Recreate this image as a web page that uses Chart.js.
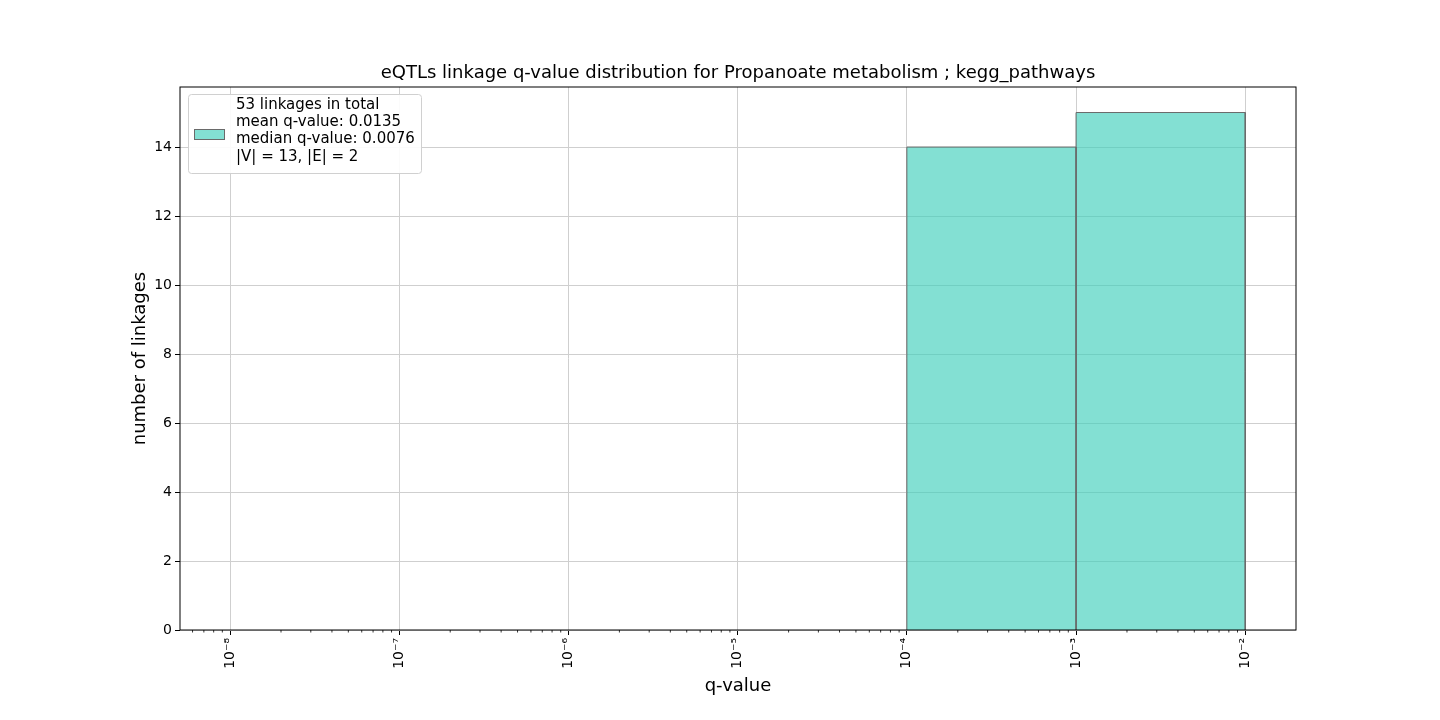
<!DOCTYPE html>
<html><head><meta charset="utf-8">
<script src="https://cdn.jsdelivr.net/npm/chart.js@4"></script>
<style>body{margin:0;background:#fff}</style></head>
<body><canvas id="c" width="1440" height="720"></canvas>
<script>
const binEdgesLog = [-4, -3, -2];
const binCounts = [14, 15];
const xTickExps = [-8, -7, -6, -5, -4, -3, -2];
const supers = {'-':'⁻','0':'⁰','1':'¹','2':'²','3':'³','4':'⁴','5':'⁵','6':'⁶','7':'⁷','8':'⁸','9':'⁹'};
const legendLines = ['53 linkages in total','mean q-value: 0.0135','median q-value: 0.0076','|V| = 13, |E| = 2'];
const titleText = 'eQTLs linkage q-value distribution for Propanoate metabolism ; kegg_pathways';
const FONT = '"DejaVu Sans", sans-serif';
const datasets = binCounts.map((c,i)=>({
  data:[{x:binEdgesLog[i],y:0},{x:binEdgesLog[i],y:c},{x:binEdgesLog[i+1],y:c},{x:binEdgesLog[i+1],y:0}],
  fill:'origin', backgroundColor:'rgba(64,208,188,0.65)', borderColor:'#6a6a6a', borderWidth:1,
  pointRadius:0, tension:0
}));
const deco = {
  id:'deco',
  afterDraw(ch){
    const c=ch.ctx, a=ch.chartArea, xs=ch.scales.x;
    c.save();
    // minor ticks
    c.strokeStyle='#000'; c.lineWidth=0.8;
    for(let e=-9;e<=-2;e++) for(let m=2;m<=9;m++){
      const v=e+Math.log10(m); if(v<xs.min||v>xs.max) continue;
      const px=xs.getPixelForValue(v); c.beginPath(); c.moveTo(px,a.bottom); c.lineTo(px,a.bottom+2.5); c.stroke();
    }
    // frame
    c.strokeStyle='#000'; c.lineWidth=1; c.strokeRect(a.left,a.top,a.right-a.left,a.bottom-a.top);
    c.fillStyle='#000'; c.textAlign='center'; c.textBaseline='middle';
    c.font='18px '+FONT; c.fillText(titleText,(a.left+a.right)/2,73);
    c.fillText('q-value',(a.left+a.right)/2,686);
    c.save(); c.translate(140,(a.top+a.bottom)/2); c.rotate(-Math.PI/2); c.fillText('number of linkages',0,0); c.restore();
    // legend
    c.fillStyle='rgba(255,255,255,0.9)'; c.strokeStyle='#d0d0d0';
    c.beginPath(); c.roundRect(188.5,94.5,233,79,3); c.fill(); c.stroke();
    c.fillStyle='rgba(64,208,188,0.65)'; c.fillRect(194,129,30,10);
    c.strokeStyle='#6a6a6a'; c.strokeRect(194.5,129.5,30,10);
    c.fillStyle='#000'; c.textAlign='left'; c.font='15px '+FONT;
    legendLines.forEach((t,i)=>c.fillText(t,236,105+i*17.3));
    c.restore();
  }
};
new Chart(document.getElementById('c'),{
  type:'line', data:{datasets},
  options:{responsive:false, animation:false,
    layout:{padding:{left:0,right:144,top:87,bottom:0}},
    plugins:{legend:{display:false},tooltip:{enabled:false}},
    scales:{
      x:{type:'linear',min:-8.296,max:-1.70,
        afterBuildTicks(s){s.ticks=xTickExps.map(v=>({value:v}));},
        afterFit(s){s.height=90;},
        grid:{color:'#cfcfcf',borderDash:[2,2],tickColor:'#000',tickLength:5,drawTicks:true},
        border:{display:false},
        ticks:{maxRotation:90,minRotation:90,color:'#000',font:{size:14,family:FONT},
          callback:v=>'10'+String(v).split('').map(ch=>supers[ch]).join('')}},
      y:{type:'linear',min:0,max:15.74,
        afterBuildTicks(s){s.ticks=[0,2,4,6,8,10,12,14].map(v=>({value:v}));},
        afterFit(s){s.width=180;},
        grid:{color:'#cfcfcf',borderDash:[2,2],tickColor:'#000',tickLength:5},
        border:{display:false},
        ticks:{color:'#000',font:{size:14,family:FONT}}}
    }},
  plugins:[deco]
});
</script></body></html>
